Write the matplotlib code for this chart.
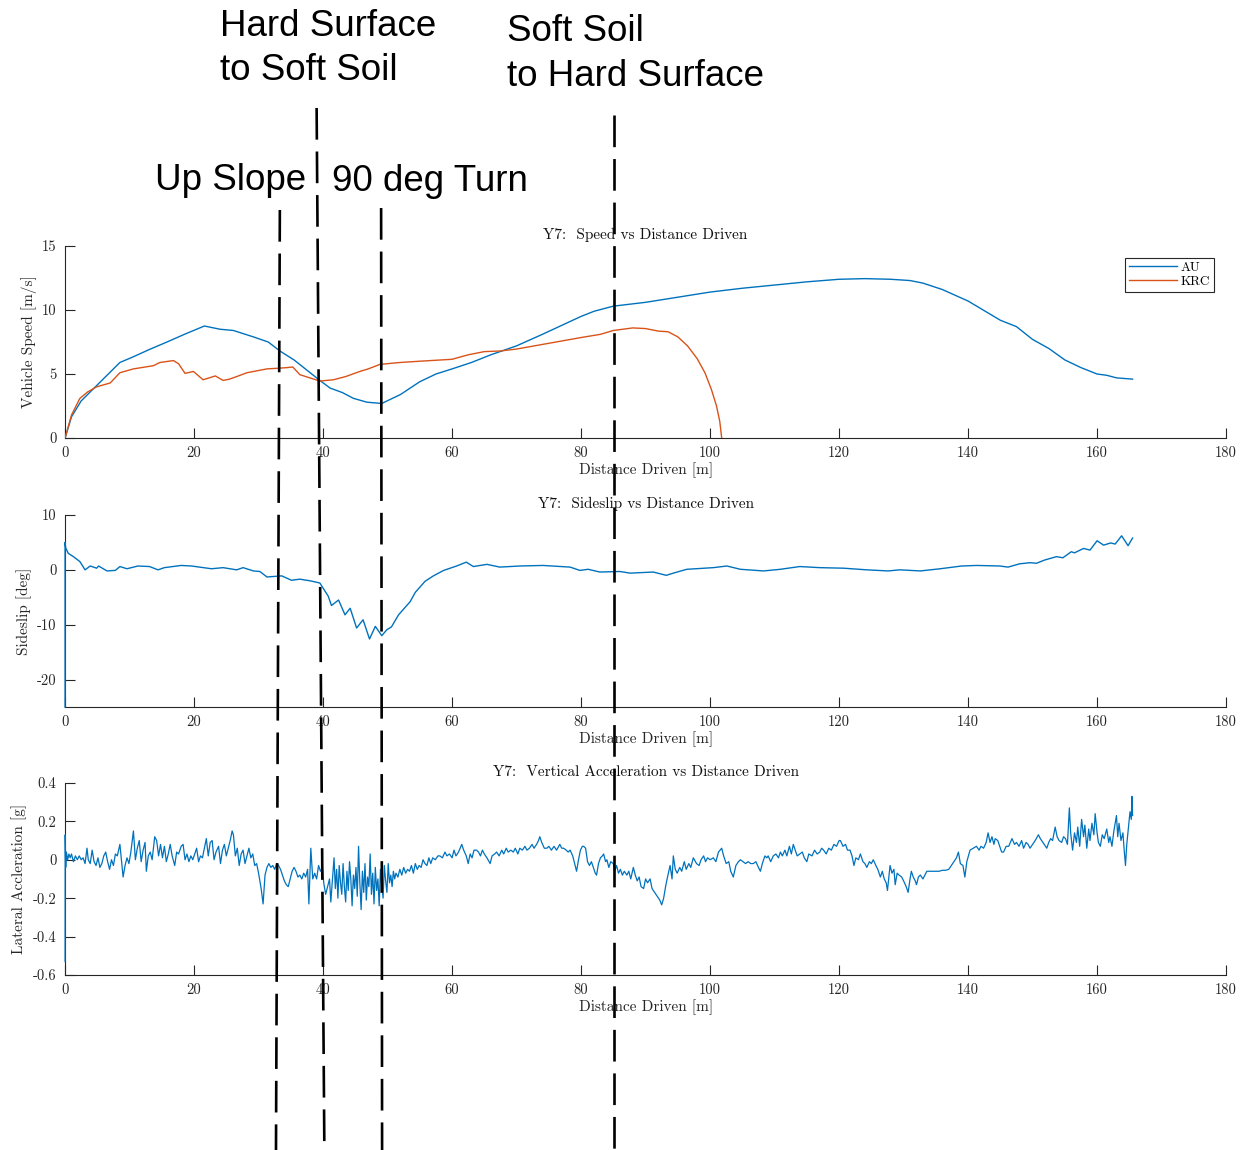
import matplotlib
matplotlib.use("Agg")
import matplotlib.pyplot as plt
from matplotlib.lines import Line2D
from matplotlib.transforms import blended_transform_factory

plt.rcParams['font.family'] = 'serif'
plt.rcParams['font.serif'] = ['cmr10']
plt.rcParams['mathtext.fontset'] = 'cm'
plt.rcParams['axes.unicode_minus'] = False

# ---- speed vs distance ----
au_dist = [0, 1.0, 2.5, 4.5, 6.5, 8.5, 10.6, 13.0, 15.8, 18.5, 21.6, 24.0, 26.1, 29.2, 31.5,
           33.3, 35.5, 37.5, 39.5, 41.1, 43.0, 44.7, 46.8, 49.1, 52.0, 55.0, 57.5, 60.0, 63.0,
           66.0, 70.0, 74.0, 77.0, 80.0, 82.0, 85.0, 90.0, 95.0, 100.0, 105.0, 110.0, 115.0,
           120.0, 124.0, 128.0, 131.0, 133.0, 136.0, 140.0, 142.0, 145.0, 147.5, 150.0, 152.5,
           155.0, 157.5, 160.0, 161.5, 163.0, 165.5]
au_speed = [0, 1.66, 2.9, 3.9, 4.9, 5.9, 6.35, 6.9, 7.5, 8.1, 8.75, 8.5, 8.4, 7.9, 7.5,
            6.8, 6.1, 5.3, 4.5, 3.9, 3.55, 3.1, 2.8, 2.7, 3.4, 4.4, 5.0, 5.4, 5.9,
            6.5, 7.2, 8.1, 8.8, 9.5, 9.9, 10.3, 10.6, 11.0, 11.4, 11.7, 11.95, 12.2,
            12.4, 12.45, 12.4, 12.3, 12.1, 11.6, 10.7, 10.1, 9.2, 8.7, 7.7, 7.0,
            6.1, 5.5, 5.0, 4.9, 4.7, 4.6]

krc_dist = [0, 1.0, 2.3, 3.5, 4.9, 7.0, 8.5, 10.6, 13.7, 14.7, 16.8, 17.6, 18.6, 19.9, 21.4,
            23.3, 24.5, 25.5, 26.6, 28.2, 31.3, 33.0, 34.4, 35.3, 36.4, 39.5, 41.6, 43.5,
            45.7, 47.0, 48.8, 51.9, 55.0, 60.0, 62.5, 65.0, 67.5, 70.0, 75.0, 80.0, 83.0, 85.0,
            88.0, 90.0, 92.0, 93.5, 95.0, 96.5, 98.0, 99.2, 100.2, 101.0, 101.5, 101.8]
krc_speed = [0, 1.8, 3.1, 3.6, 4.0, 4.3, 5.1, 5.4, 5.65, 5.9, 6.05, 5.8, 5.05, 5.2, 4.55,
             4.85, 4.5, 4.6, 4.8, 5.1, 5.4, 5.45, 5.5, 5.55, 4.95, 4.45, 4.55, 4.8,
             5.2, 5.4, 5.75, 5.9, 6.0, 6.15, 6.5, 6.75, 6.8, 6.95, 7.4, 7.85, 8.1, 8.4,
             8.6, 8.55, 8.35, 8.3, 7.9, 7.2, 6.2, 5.1, 3.8, 2.5, 1.3, 0]

# ---- sideslip vs distance ----
slip_dist = [0, 0, 0.1, 0.5, 1.3, 2.3, 3.1, 3.9, 4.9, 5.2, 6.5, 7.8, 8.5, 9.6, 11.3, 13.1, 14.4,
             15.4, 18.0, 19.6, 22.7, 24.5, 26.6, 27.6, 29.2, 30.2, 31.3, 33.6, 35.1, 36.4,
             38.0, 39.5, 40.8, 41.3, 42.4, 43.4, 44.2, 45.2, 46.2, 47.2, 48.1, 49.1, 49.9,
             50.6, 51.7, 53.5, 54.3, 55.8, 57.1, 58.7, 60.7, 62.2, 63.3, 65.4, 67.4, 70.5,
             74.1, 78.3, 79.8, 81.1, 82.9, 86.0, 87.6, 91.2, 93.2, 94.3, 96.4, 100.5, 102.6,
             104.7, 108.3, 110.9, 113.9, 117.0, 120.7, 124.3, 127.6, 129.4, 132.6, 135.7,
             139.0, 141.3, 144.9, 146.2, 148.0, 149.6, 150.6, 151.9, 153.7, 154.7, 156.0,
             156.5, 157.9, 158.9, 160.0, 161.0, 162.1, 162.8, 163.8, 164.8, 165.5]
slip_deg = [-25, 5.0, 4.0, 3.0, 2.4, 1.5, 0.0, 0.7, 0.3, 0.7, -0.2, -0.1, 0.6, 0.2, 0.7, 0.6, 0.0,
            0.4, 0.8, 0.7, 0.2, 0.4, 0.0, 0.4, -0.2, -0.3, -1.3, -1.1, -1.9, -1.7,
            -2.0, -2.4, -4.8, -6.5, -5.5, -8.2, -7.0, -10.6, -9.1, -12.6, -10.3, -12.0, -10.9,
            -10.4, -8.2, -5.8, -4.1, -2.1, -1.1, -0.1, 0.7, 1.4, 0.6, 1.0, 0.5, 0.7,
            0.8, 0.5, -0.1, 0.1, -0.4, -0.3, -0.6, -0.4, -1.0, -0.6, 0.1, 0.4, 0.7,
            0.1, -0.2, 0.1, 0.6, 0.4, 0.3, 0.0, -0.2, 0.0, -0.2, 0.2,
            0.7, 0.8, 0.7, 0.5, 1.1, 1.3, 1.2, 1.8, 2.4, 2.2, 3.3,
            3.1, 3.9, 3.6, 5.3, 4.5, 4.9, 4.7, 6.2, 4.4, 5.8]

# ---- vertical acceleration vs distance ----
acc_dist = [0.0, 0.02, 0.1, 0.2, 0.4, 0.6, 0.8, 1.0, 1.3, 1.6, 1.9, 2.2, 2.5, 2.8, 3.1, 3.4, 3.6,
            3.9, 4.2, 4.5, 4.8, 5.1, 5.4, 5.7, 6.0, 6.3, 6.6, 6.9, 7.2, 7.5, 7.8, 8.1, 8.5, 8.8,
            9.0, 9.3, 9.6, 9.9, 10.2, 10.6, 10.9, 11.2, 11.5, 11.8, 12.1, 12.4, 12.6, 12.9, 13.2,
            13.5, 13.9, 14.2, 14.5, 14.8, 15.1, 15.4, 15.7, 16.0, 16.3, 16.6, 17.0, 17.3, 17.6,
            18.0, 18.3, 18.6, 18.9, 19.2, 19.5, 19.8, 20.1, 20.4, 20.7, 21.0, 21.3, 21.6, 21.9,
            22.2, 22.5, 22.8, 23.1, 23.4, 23.8, 24.1, 24.4, 24.7, 25.0, 25.3, 25.6, 25.9, 26.1,
            26.4, 26.7, 27.0, 27.3, 27.6, 27.9, 28.2, 28.5, 28.8, 29.1, 29.4, 29.7, 30.0, 30.4,
            30.7, 31.0, 31.3, 31.6, 31.9, 32.2, 32.5, 32.8, 33.1, 33.4, 33.7, 34.0, 34.3, 34.6,
            34.9, 35.2, 35.5, 35.8, 36.1, 36.4, 36.7, 37.0, 37.3, 37.6, 37.8, 38.1, 38.4, 38.7,
            39.0, 39.3, 39.6, 39.9, 40.1, 40.4, 40.7, 41.0, 41.2, 41.5, 41.7, 41.9, 42.1, 42.3,
            42.5, 42.7, 42.9, 43.1, 43.3, 43.5, 43.7, 43.9, 44.1, 44.3, 44.5, 44.7, 44.9, 45.1,
            45.3, 45.5, 45.7, 45.9, 46.1, 46.3, 46.5, 46.7, 46.9, 47.1, 47.3, 47.5, 47.7, 47.9,
            48.1, 48.3, 48.5, 48.7, 48.9, 49.1, 49.3, 49.5, 49.7, 49.9, 50.1, 50.3, 50.5, 50.7,
            50.9, 51.1, 51.3, 51.6, 51.9, 52.2, 52.5, 52.8, 53.1, 53.4, 53.7, 54.0, 54.3, 54.6,
            54.9, 55.2, 55.5, 55.8, 56.1, 56.4, 56.7, 57.0, 57.4, 57.8, 58.1, 58.5, 58.9, 59.2,
            59.6, 60.0, 60.3, 60.6, 61.0, 61.5, 61.8, 62.2, 62.5, 62.8, 63.1, 63.4, 63.8, 64.1,
            64.4, 64.7, 65.0, 65.4, 65.9, 66.2, 66.6, 66.9, 67.3, 67.7, 68.0, 68.4, 68.7, 69.1,
            69.5, 69.8, 70.2, 70.5, 70.9, 71.3, 71.6, 72.0, 72.4, 72.7, 73.1, 73.4, 73.6, 73.9,
            74.3, 74.7, 75.0, 75.4, 75.8, 76.2, 76.7, 77.0, 77.3, 77.7, 78.0, 78.3, 78.7, 79.0,
            79.3, 79.6, 79.9, 80.2, 80.4, 80.7, 81.0, 81.3, 81.6, 81.9, 82.2, 82.4, 82.7, 83.0,
            83.3, 83.5, 83.8, 84.0, 84.3, 84.6, 85.0, 85.2, 85.5, 85.8, 86.1, 86.4, 86.7, 87.1,
            87.4, 87.7, 88.1, 88.4, 88.7, 89.0, 89.3, 89.7, 90.0, 90.3, 90.7, 91.0, 91.4, 91.8,
            92.2, 92.5, 92.8, 93.1, 93.4, 93.8, 94.1, 94.3, 94.6, 94.9, 95.3, 95.6, 96.0, 96.3,
            96.7, 97.0, 97.4, 97.9, 98.3, 98.6, 99.0, 99.3, 99.6, 100.0, 100.5, 100.9, 101.3,
            101.8, 102.1, 102.5, 102.9, 103.2, 103.6, 104.0, 104.4, 104.7, 105.1, 105.5, 105.9,
            106.3, 106.7, 107.1, 107.5, 107.8, 108.1, 108.5, 108.8, 109.0, 109.4, 109.8, 110.2,
            110.6, 110.9, 111.2, 111.6, 111.9, 112.3, 112.6, 112.9, 113.2, 113.5, 113.9, 114.3,
            114.6, 115.0, 115.3, 115.8, 116.2, 116.6, 117.0, 117.3, 117.6, 118.0, 118.4, 118.8,
            119.2, 119.6, 120.0, 120.2, 120.6, 121.0, 121.3, 121.7, 122.0, 122.3, 122.6, 123.0,
            123.3, 123.7, 124.0, 124.3, 124.7, 125.0, 125.3, 125.7, 126.0, 126.4, 126.7, 127.0,
            127.3, 127.5, 127.9, 128.2, 128.5, 128.7, 129.0, 129.3, 129.7, 130.0, 130.4, 130.7,
            131.0, 131.2, 131.5, 131.8, 132.0, 132.3, 132.6, 133.0, 133.3, 133.6, 134.0, 134.5,
            135.0, 135.5, 136.0, 136.5, 137.0, 137.4, 137.8, 138.2, 138.5, 138.8, 139.2, 139.5,
            139.8, 140.3, 140.8, 141.3, 141.7, 142.0, 142.4, 142.8, 143.1, 143.4, 143.7, 144.0,
            144.2, 144.6, 145.0, 145.2, 145.5, 145.9, 146.3, 146.8, 147.2, 147.5, 147.9, 148.3,
            148.6, 149.0, 149.3, 149.6, 150.0, 150.4, 150.9, 151.2, 151.6, 152.2, 152.5, 152.8,
            153.1, 153.5, 153.8, 154.1, 154.5, 154.8, 155.1, 155.4, 155.7, 155.9, 156.2, 156.5,
            156.8, 157.0, 157.3, 157.6, 157.9, 158.1, 158.4, 158.7, 158.9, 159.2, 159.5, 159.7,
            160.0, 160.2, 160.5, 160.8, 161.1, 161.5, 161.8, 162.0, 162.3, 162.6, 163.0, 163.2,
            163.4, 163.7, 164.0, 164.2, 164.4, 164.6, 164.9, 165.1, 165.3, 165.4, 165.5]
acc_g = [-0.53, 0.13, -0.04, 0.04, 0.00, 0.03, 0.01, 0.03, -0.01, 0.02, 0.00, 0.02, 0.00, 0.01,
         -0.02, 0.06, 0.00, -0.02, 0.05, -0.01, -0.03, 0.01, -0.04, -0.02, 0.02, 0.04, -0.01,
         -0.05, 0.00, -0.03, 0.03, 0.02, 0.08, -0.02, -0.09, -0.03, 0.01, -0.02, 0.04, 0.15,
         0.00, 0.06, 0.10, -0.01, 0.05, 0.09, -0.06, 0.02, 0.04, 0.00, 0.12, 0.10, 0.02, 0.08,
         0.01, 0.07, -0.01, 0.03, 0.08, 0.02, -0.03, 0.04, 0.03, 0.07, 0.08, 0.00, 0.03, -0.01,
         0.02, 0.00, 0.03, 0.06, -0.01, 0.02, 0.01, 0.06, 0.11, 0.02, 0.09, 0.10, 0.00, 0.04,
         0.07, -0.02, 0.05, 0.08, 0.02, 0.06, 0.10, 0.15, 0.13, 0.02, 0.06, -0.03, 0.03, 0.05,
         -0.02, 0.02, 0.06, 0.01, 0.03, -0.03, -0.02, -0.07, -0.15, -0.23, -0.08, -0.04, -0.02,
         -0.04, -0.03, -0.05, -0.02, -0.03, -0.05, -0.08, -0.11, -0.13, -0.14, -0.10, -0.06,
         -0.04, -0.06, -0.09, -0.08, -0.10, -0.07, -0.09, -0.05, -0.23, 0.06, -0.10, -0.07,
         -0.10, -0.03, -0.06, -0.04, -0.12, -0.18, -0.14, -0.10, -0.22, -0.08, 0.01, -0.15,
         -0.05, -0.20, -0.03, -0.12, -0.18, -0.02, -0.14, -0.22, -0.06, -0.16, -0.01, -0.10,
         -0.24, -0.08, -0.15, -0.04, -0.19, 0.07, -0.12, -0.26, -0.06, -0.17, -0.02, -0.21,
         -0.09, -0.14, 0.03, -0.18, -0.07, -0.23, -0.04, -0.16, -0.10, -0.24, -0.05, -0.13,
         -0.20, -0.03, -0.11, -0.17, -0.02, -0.12, -0.08, -0.14, -0.06, -0.10, -0.07, -0.09,
         -0.05, -0.08, -0.04, -0.07, -0.05, -0.06, -0.03, -0.07, -0.02, -0.05, -0.03, -0.04,
         0.00, -0.02, -0.03, 0.01, -0.02, 0.01, 0.00, 0.02, 0.02, 0.01, 0.04, 0.02, 0.03, 0.01,
         0.05, 0.02, 0.04, 0.08, 0.05, 0.02, -0.02, 0.03, 0.01, 0.05, 0.05, 0.04, 0.02, 0.05,
         0.03, 0.01, -0.02, 0.02, 0.03, 0.04, 0.02, 0.05, 0.03, 0.06, 0.04, 0.05, 0.04, 0.06,
         0.03, 0.06, 0.05, 0.07, 0.05, 0.06, 0.08, 0.06, 0.08, 0.10, 0.12, 0.09, 0.06, 0.06,
         0.07, 0.05, 0.07, 0.05, 0.08, 0.06, 0.06, 0.05, 0.04, 0.05, 0.02, -0.02, -0.06, 0.00,
         0.05, 0.07, 0.07, 0.06, -0.01, -0.03, -0.01, -0.04, -0.07, -0.08, -0.02, 0.01, 0.02,
         0.03, -0.01, 0.00, -0.04, -0.01, -0.02, -0.06, -0.03, -0.07, -0.05, -0.08, -0.06,
         -0.08, -0.06, -0.10, -0.04, -0.08, -0.11, -0.09, -0.14, -0.15, -0.10, -0.12, -0.10,
         -0.15, -0.17, -0.19, -0.21, -0.235, -0.20, -0.14, -0.09, -0.03, -0.10, 0.02, -0.05,
         -0.07, -0.04, -0.06, -0.01, -0.05, -0.02, -0.04, 0.01, -0.02, -0.03, 0.00, 0.02, -0.01,
         0.01, 0.00, 0.01, -0.01, 0.04, 0.06, 0.02, -0.02, -0.01, -0.06, -0.09, -0.03, -0.01,
         0.00, -0.01, -0.02, -0.01, -0.02, -0.02, -0.01, -0.04, -0.06, -0.02, 0.02, 0.01, 0.02,
         -0.01, 0.02, 0.03, 0.01, 0.04, 0.02, 0.05, 0.02, 0.07, 0.03, 0.08, 0.05, 0.02, 0.03,
         0.04, 0.01, -0.01, 0.03, 0.02, 0.05, 0.03, 0.04, 0.06, 0.05, 0.03, 0.06, 0.05, 0.08,
         0.07, 0.10, 0.10, 0.07, 0.08, 0.05, 0.05, 0.02, -0.03, 0.01, 0.00, 0.03, -0.01, -0.02,
         -0.04, -0.01, -0.02, 0.00, -0.03, -0.05, -0.09, -0.06, -0.10, -0.12, -0.16, -0.03,
         -0.07, -0.05, -0.13, -0.07, -0.08, -0.09, -0.11, -0.14, -0.17, -0.10, -0.06, -0.09,
         -0.11, -0.13, -0.09, -0.08, -0.10, -0.08, -0.06, -0.06, -0.06, -0.06, -0.06, -0.055,
         -0.055, -0.05, -0.03, -0.01, 0.01, 0.04, -0.02, -0.03, -0.09, -0.01, 0.05, 0.06, 0.07,
         0.05, 0.07, 0.06, 0.09, 0.14, 0.09, 0.12, 0.08, 0.11, 0.10, 0.06, 0.04, 0.04, 0.07,
         0.07, 0.11, 0.08, 0.09, 0.07, 0.10, 0.06, 0.09, 0.08, 0.06, 0.08, 0.10, 0.13, 0.11,
         0.09, 0.06, 0.09, 0.11, 0.10, 0.17, 0.12, 0.10, 0.09, 0.12, 0.11, 0.08, 0.27, 0.14,
         0.05, 0.14, 0.09, 0.17, 0.07, 0.21, 0.12, 0.18, 0.06, 0.16, 0.10, 0.19, 0.13, 0.24,
         0.14, 0.09, 0.07, 0.13, 0.11, 0.16, 0.09, 0.12, 0.07, 0.15, 0.23, 0.12, 0.19, 0.10,
         0.14, 0.05, -0.03, 0.08, 0.18, 0.25, 0.21, 0.33, 0.23]

# event markers drawn across the figure (distance at top / bottom of each dashed line)
event_dist_top = [33.3, 39.0, 49.0, 85.1]
event_dist_bot = [32.7, 40.2, 49.15, 85.1]
event_top_frac = [0.8174, 0.9061, 0.8191, 0.9]

blue = '#0072BD'
orange = '#D95319'
axcol = '#262626'

fig = plt.figure(figsize=(12.56, 11.5), dpi=100)
left, width, height = 0.0518, 0.9244, 0.167
ax1 = fig.add_axes([left, 0.6191, width, height])
ax2 = fig.add_axes([left, 0.3852, width, height])
ax3 = fig.add_axes([left, 0.1522, width, height])


def style(ax, ylim, yticks, ylabels, ylabel, title):
    ax.set_xlim(0, 180)
    ax.set_ylim(*ylim)
    ax.set_xticks([0, 20, 40, 60, 80, 100, 120, 140, 160, 180])
    ax.set_yticks(yticks)
    ax.set_yticklabels(ylabels)
    for s in ['top', 'right']:
        ax.spines[s].set_visible(False)
    for s in ['left', 'bottom']:
        ax.spines[s].set_color(axcol)
        ax.spines[s].set_linewidth(0.8)
    ax.tick_params(direction='in', length=7, width=0.8, colors=axcol, labelsize=10.5, pad=6)
    ax.set_xlabel('Distance Driven [m]', fontsize=11, color=axcol, labelpad=2)
    ax.set_ylabel(ylabel, fontsize=11, color=axcol, labelpad=4)
    ax.set_title(title, fontsize=11, color='#111111', pad=5)


ax1.plot(au_dist, au_speed, color=blue, lw=1.0, label='AU', zorder=3)
ax1.plot(krc_dist, krc_speed, color=orange, lw=1.0, label='KRC', zorder=3)
style(ax1, (0, 15), [0, 5, 10, 15], ['0', '5', '10', '15'],
      'Vehicle Speed [m/s]', 'Y7:  Speed vs Distance Driven')
leg = ax1.legend(loc='upper right', fontsize=9.5, fancybox=False, framealpha=1,
                 edgecolor=axcol, handlelength=3.6, borderaxespad=0.9,
                 borderpad=0.3, labelspacing=0.1, handletextpad=0.3)
leg.get_frame().set_linewidth(0.8)

ax2.plot(slip_dist, slip_deg, color=blue, lw=1.0, zorder=3, clip_on=False)
style(ax2, (-25, 10), [-20, -10, 0, 10], ['-20', '-10', '0', '10'],
      'Sideslip [deg]', 'Y7:  Sideslip vs Distance Driven')

ax3.plot(acc_dist, acc_g, color=blue, lw=0.9, zorder=3, clip_on=False)
style(ax3, (-0.6, 0.4), [-0.6, -0.4, -0.2, 0, 0.2, 0.4],
      ['-0.6', '-0.4', '-0.2', '0', '0.2', '0.4'],
      'Lateral Accleration [g]', 'Y7:  Vertical Acceleration vs Distance Driven')

# dashed event lines spanning the whole figure
trans = blended_transform_factory(ax1.transData, fig.transFigure)
for xt, xb, yt in zip(event_dist_top, event_dist_bot, event_top_frac):
    ln = Line2D([xt, xb], [yt, 0], transform=trans, color='black', lw=1.9,
                dashes=(12, 4.5), zorder=10)
    fig.add_artist(ln)

# annotations
ann = dict(family='Liberation Sans', fontsize=26.5, color='black')
fig.text(0.175, 0.9925, 'Hard Surface\nto Soft Soil', va='top', ha='left', linespacing=1.36, **ann)
fig.text(0.4037, 0.988, 'Soft Soil\nto Hard Surface', va='top', ha='left', linespacing=1.36, **ann)
fig.text(0.1234, 0.8348, 'Up Slope', va='baseline', ha='left', **ann)
fig.text(0.2643, 0.834, '90 deg Turn', va='baseline', ha='left', **ann)

fig.savefig('out.png', dpi=100)
